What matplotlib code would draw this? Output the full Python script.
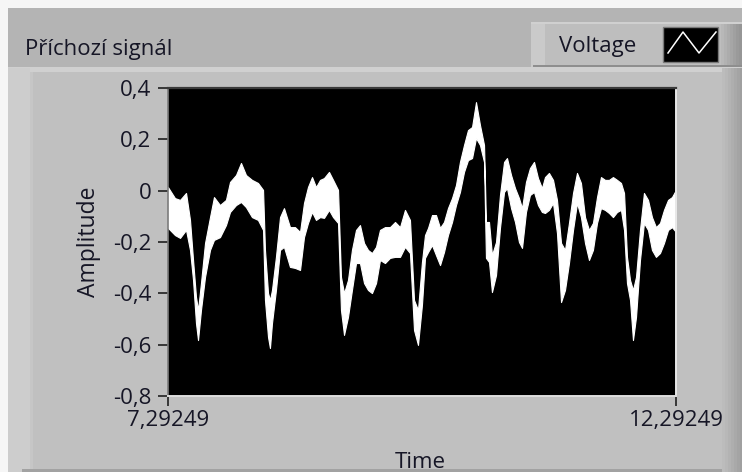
import matplotlib
matplotlib.use("Agg")
import matplotlib.pyplot as plt
from matplotlib.patches import Rectangle
import numpy as np

# ---------------- data ----------------
time_s = [7.292, 7.361, 7.411, 7.470, 7.509, 7.539, 7.568, 7.588, 7.617, 7.657,
          7.706, 7.745, 7.804, 7.863, 7.903, 7.962, 8.011, 8.060, 8.119, 8.178,
          8.228, 8.247, 8.277, 8.296, 8.316, 8.355, 8.395, 8.434, 8.493, 8.542,
          8.592, 8.631, 8.670, 8.710, 8.749, 8.789, 8.828, 8.877, 8.917, 8.966,
          8.995, 9.025, 9.064, 9.103, 9.143, 9.182, 9.222, 9.261, 9.300, 9.340,
          9.379, 9.428, 9.477, 9.527, 9.576, 9.625, 9.674, 9.714, 9.753, 9.792,
          9.822, 9.852, 9.891, 9.930, 9.970, 10.009, 10.048, 10.088, 10.127, 10.166,
          10.206, 10.245, 10.285, 10.324, 10.363, 10.403, 10.422, 10.452, 10.481, 10.521,
          10.560, 10.600, 10.629, 10.669, 10.708, 10.747, 10.777, 10.816, 10.855, 10.895,
          10.934, 10.973, 11.003, 11.042, 11.082, 11.121, 11.161, 11.200, 11.239, 11.279,
          11.318, 11.357, 11.397, 11.436, 11.475, 11.515, 11.554, 11.594, 11.633, 11.672,
          11.712, 11.751, 11.781, 11.810, 11.840, 11.869, 11.899, 11.938, 11.977, 12.017,
          12.056, 12.095, 12.135, 12.174, 12.214, 12.253, 12.292]

voltage_upper = [0.014, -0.029, -0.036, -0.009, -0.114, -0.270, -0.414, -0.465, -0.360, -0.204,
                 -0.103, -0.025, -0.056, -0.036, 0.034, 0.061, 0.108, 0.061, 0.042, 0.030,
                 0.003, -0.231, -0.399, -0.426, -0.387, -0.258, -0.103, -0.068, -0.142, -0.142,
                 -0.161, -0.048, 0.014, 0.053, 0.014, 0.042, 0.049, 0.073, 0.042, 0.003,
                 -0.336, -0.399, -0.348, -0.231, -0.153, -0.134, -0.204, -0.231, -0.243, -0.219,
                 -0.153, -0.142, -0.142, -0.122, -0.142, -0.075, -0.114, -0.426, -0.465, -0.278,
                 -0.173, -0.145, -0.095, -0.095, -0.145, -0.122, -0.068, -0.029, 0.022, 0.112,
                 0.178, 0.236, 0.248, 0.345, 0.256, 0.178, -0.122, -0.122, -0.251, -0.200,
                 -0.017, 0.112, 0.127, 0.061, 0.010, -0.029, -0.068, 0.034, 0.088, 0.112,
                 0.049, 0.010, 0.053, 0.069, 0.042, -0.036, -0.204, -0.231, -0.126, -0.009,
                 0.069, 0.030, -0.103, -0.153, -0.126, -0.025, 0.053, 0.042, 0.042, 0.053,
                 0.042, 0.030, -0.009, -0.258, -0.348, -0.387, -0.336, -0.153, -0.009, -0.036,
                 -0.103, -0.142, -0.126, -0.075, -0.036, -0.025, 0.003]

voltage_lower = [-0.145, -0.173, -0.184, -0.153, -0.231, -0.348, -0.516, -0.582, -0.465, -0.336,
                 -0.231, -0.192, -0.181, -0.134, -0.083, -0.056, -0.044, -0.064, -0.103, -0.114,
                 -0.153, -0.426, -0.570, -0.613, -0.516, -0.387, -0.231, -0.219, -0.297, -0.301,
                 -0.309, -0.181, -0.126, -0.083, -0.114, -0.103, -0.106, -0.075, -0.103, -0.126,
                 -0.465, -0.562, -0.492, -0.387, -0.282, -0.282, -0.360, -0.387, -0.399, -0.360,
                 -0.270, -0.282, -0.262, -0.258, -0.258, -0.219, -0.243, -0.543, -0.601, -0.445,
                 -0.262, -0.239, -0.212, -0.251, -0.290, -0.239, -0.173, -0.122, -0.056, -0.005,
                 0.073, 0.119, 0.127, 0.205, 0.178, 0.112, -0.262, -0.278, -0.395, -0.329,
                 -0.145, -0.005, 0.010, -0.068, -0.122, -0.200, -0.223, -0.083, -0.017, -0.005,
                 -0.056, -0.083, -0.087, -0.075, -0.048, -0.165, -0.434, -0.387, -0.282, -0.153,
                 -0.048, -0.103, -0.204, -0.270, -0.231, -0.126, -0.068, -0.075, -0.087, -0.103,
                 -0.083, -0.075, -0.153, -0.360, -0.426, -0.582, -0.492, -0.270, -0.126, -0.153,
                 -0.231, -0.258, -0.243, -0.204, -0.153, -0.142, -0.161]

y_ticks = [0.4, 0.2, 0.0, -0.2, -0.4, -0.6, -0.8]
y_tick_labels = ["0,4", "0,2", "0", "-0,2", "-0,4", "-0,6", "-0,8"]
x_ticks = [7.29249, 12.29249]
x_tick_labels = ["7,29249", "12,29249"]

title_text = "Příchozí signál"
legend_label = "Voltage"
x_label = "Time"
y_label = "Amplitude"

# ---------------- figure ----------------
W, H = 742, 472
FONT = "Open Sans"
FS = 16
TXT = "#161626"
fig = plt.figure(figsize=(W / 100, H / 100), dpi=100)
fig.patch.set_facecolor("#c0c0c0")

bg = fig.add_axes([0, 0, 1, 1], zorder=0)
bg.set_xlim(0, W)
bg.set_ylim(H, 0)
bg.axis("off")


def rect(x, y, w, h, c, **kw):
    bg.add_patch(Rectangle((x, y), w, h, facecolor=c, edgecolor="none", **kw))


rect(0, 0, W, H, "#c0c0c0")
rect(0, 0, W, 8, "#f6f6f6")
rect(0, 0, 8, H, "#f6f6f6")
rect(8, 8, W - 8, 60, "#b4b4b4")
rect(8, 67, W - 8, 5, "#d0d0d0")
rect(8, 68, 22, H - 68, "#cdcdcd")
rect(30, 72, 3, H - 72, "#c6c6c6")
rect(22, 469, W - 22, 3, "#a2a2a2")
# right side shading
for i, c in enumerate(["#bcbcbc", "#b8b8b8", "#b3b3b3", "#aeaeae", "#a9a9a9", "#a4a4a4", "#a0a0a0"]):
    rect(722 + i * 3, 68, 3, H - 68, c)

# legend box
rect(531, 22, W - 531, 45, "#bebebe")
rect(531, 22, 14, 45, "#cacaca")
rect(531, 22, W - 531, 2, "#d0d0d0")
rect(533, 65, W - 533, 2, "#8e8e8e")
for i, c in enumerate(["#b8b8b8", "#b2b2b2", "#acacac", "#a6a6a6", "#a0a0a0", "#9a9a9a", "#969696"]):
    rect(721 + i * 3, 24, 3, 41, c)
bg.add_patch(Rectangle((663, 27), 55, 35, facecolor="black", edgecolor="#7a7a7a", lw=1))
bg.plot([668, 683, 699, 716], [53, 32, 53, 32], color="white", lw=1.1)

fig.text(25 / W, 1 - 55 / H, title_text, fontsize=FS, family=FONT, color=TXT,
         ha="left", va="baseline")
fig.text(559 / W, 1 - 52 / H, legend_label, fontsize=FS, family=FONT, color=TXT,
         ha="left", va="baseline")
fig.text(420 / W, 1 - 468 / H, x_label, fontsize=FS, family=FONT, color=TXT,
         ha="center", va="baseline")
fig.text(89 / W, 1 - 242 / H, y_label, fontsize=FS + 0.5, family=FONT, color=TXT,
         ha="center", va="center", rotation=90)

# ---------------- plot ----------------
L, T, R, B = 168, 88, 676, 396
ax = fig.add_axes([L / W, 1 - B / H, (R - L) / W, (B - T) / H], zorder=2)
ax.set_facecolor("black")
ax.fill_between(time_s, voltage_lower, voltage_upper, color="white", lw=0.8,
                edgecolor="white")
ax.set_xlim(x_ticks[0], x_ticks[1])
ax.set_ylim(-0.8, 0.4)

ax.set_yticks(y_ticks)
ax.set_yticklabels(y_tick_labels)
ax.set_xticks(x_ticks)
ax.set_xticklabels(x_tick_labels)
ax.tick_params(axis="both", direction="out", length=7, width=1.2, color="#202020",
               labelsize=FS, labelcolor=TXT, pad=5)
ax.tick_params(axis="x", pad=3)
for lab in ax.get_xticklabels() + ax.get_yticklabels():
    lab.set_family(FONT)

ax.spines["top"].set_color("#3a3a3a")
ax.spines["top"].set_linewidth(1.6)
ax.spines["left"].set_color("#7c7c7c")
ax.spines["left"].set_linewidth(1.2)
ax.spines["right"].set_color("#e8e8e8")
ax.spines["right"].set_linewidth(1.4)
ax.spines["bottom"].set_color("#dedede")
ax.spines["bottom"].set_linewidth(1.4)

fig.savefig("out.png", dpi=100, facecolor=fig.get_facecolor())
